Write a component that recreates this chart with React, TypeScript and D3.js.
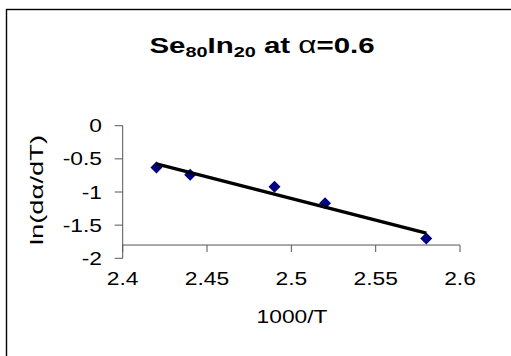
import { scaleLinear, line, mean, sum } from 'd3';

const xValues = [2.42, 2.44, 2.49, 2.52, 2.58];
const yValues = [-0.63, -0.74, -0.92, -1.17, -1.7];
const xTicks = [2.4, 2.45, 2.5, 2.55, 2.6];
const yTicks = [0, -0.5, -1, -1.5, -2];
const xCross = -1.8;

const W = 511;
const H = 356;
const SX = 1.2; // the original image is stretched sideways
const FONT = 'Arial, "Liberation Sans", sans-serif';

function Label({ x, y, anchor = 'middle', size = 19, weight = 'normal', children }: any) {
    return (
        <g transform={`translate(${x},${y}) scale(${SX},1)`}>
            <text x={0} y={0} textAnchor={anchor} fontSize={size} fontWeight={weight} fontFamily={FONT} fill='#000'>
                {children}
            </text>
        </g>
    );
}

export default function App() {
    const scaleX = scaleLinear().domain([2.4, 2.6]).range([122.7, 460]);
    const scaleY = scaleLinear().domain([-2, 0]).range([258.3, 125.7]);

    // least squares trendline
    const mx = mean(xValues) as number;
    const my = mean(yValues) as number;
    const slope =
        sum(xValues, (x, i) => (x - mx) * (yValues[i] - my)) /
        sum(xValues, (x) => (x - mx) * (x - mx));
    const fit = (x: number) => my + slope * (x - mx);
    const xMin = Math.min(...xValues);
    const xMax = Math.max(...xValues);
    const trend = line<number>()
        .x((d) => scaleX(d))
        .y((d) => scaleY(fit(d)))([xMin, xMax]);

    const x0 = scaleX(2.4);
    const axisY = scaleY(xCross);
    const axisColor = '#555';

    return (
        <svg width={W} height={H} style={{ position: 'absolute', left: 0, top: 0, background: '#fff' }}>
            <rect x={0} y={0} width={W} height={H} fill='#fff' />
            <rect x={6.5} y={9.5} width={700} height={500} fill='none' stroke='#000' strokeWidth={1.4} />

            {/* title */}
            <g transform={`translate(262,53) scale(1.37,1)`}>
                <text x={0} y={0} textAnchor='middle' fontSize={21.5} fontWeight='bold' fontFamily={FONT}>
                    Se<tspan fontSize={14.5} dy={4}>80</tspan>
                    <tspan dy={-4}>In</tspan>
                    <tspan fontSize={14.5} dy={4}>20</tspan>
                    <tspan dy={-4}> at </tspan>
                    <tspan fontWeight='normal' fontSize={23}>α</tspan>
                    <tspan>=0.6</tspan>
                </text>
            </g>

            {/* y axis */}
            <line x1={x0} x2={x0} y1={scaleY(0)} y2={scaleY(-2)} stroke={axisColor} />
            {yTicks.map((t) => (
                <g key={`y${t}`}>
                    <line x1={x0 - 8} x2={x0} y1={scaleY(t)} y2={scaleY(t)} stroke={axisColor} />
                    <Label x={102} y={scaleY(t) + 6.5} anchor='end'>
                        {String(t)}
                    </Label>
                </g>
            ))}

            {/* x axis */}
            <line x1={x0} x2={scaleX(2.6)} y1={axisY} y2={axisY} stroke={axisColor} />
            {xTicks.map((t) => (
                <g key={`x${t}`}>
                    <line x1={scaleX(t)} x2={scaleX(t)} y1={axisY} y2={axisY + 7} stroke={axisColor} />
                    <Label x={scaleX(t)} y={285}>
                        {String(t)}
                    </Label>
                </g>
            ))}

            <Label x={292} y={323}>1000/T</Label>
            <g transform={`translate(43,190) rotate(-90) scale(1.44,1)`}>
                <text x={0} y={0} textAnchor='middle' fontSize={19} fontFamily={FONT}>
                    ln(dα/dT)
                </text>
            </g>

            {/* points */}
            {xValues.map((x, i) => {
                const cx = scaleX(x);
                const cy = scaleY(yValues[i]);
                const r = 6;
                return (
                    <path
                        key={`p${i}`}
                        d={`M${cx},${cy - r}L${cx + r},${cy}L${cx},${cy + r}L${cx - r},${cy}Z`}
                        fill='#000080'
                    />
                );
            })}
            <path d={trend ?? ''} fill='none' stroke='#000' strokeWidth={3.3} />
        </svg>
    );
}
